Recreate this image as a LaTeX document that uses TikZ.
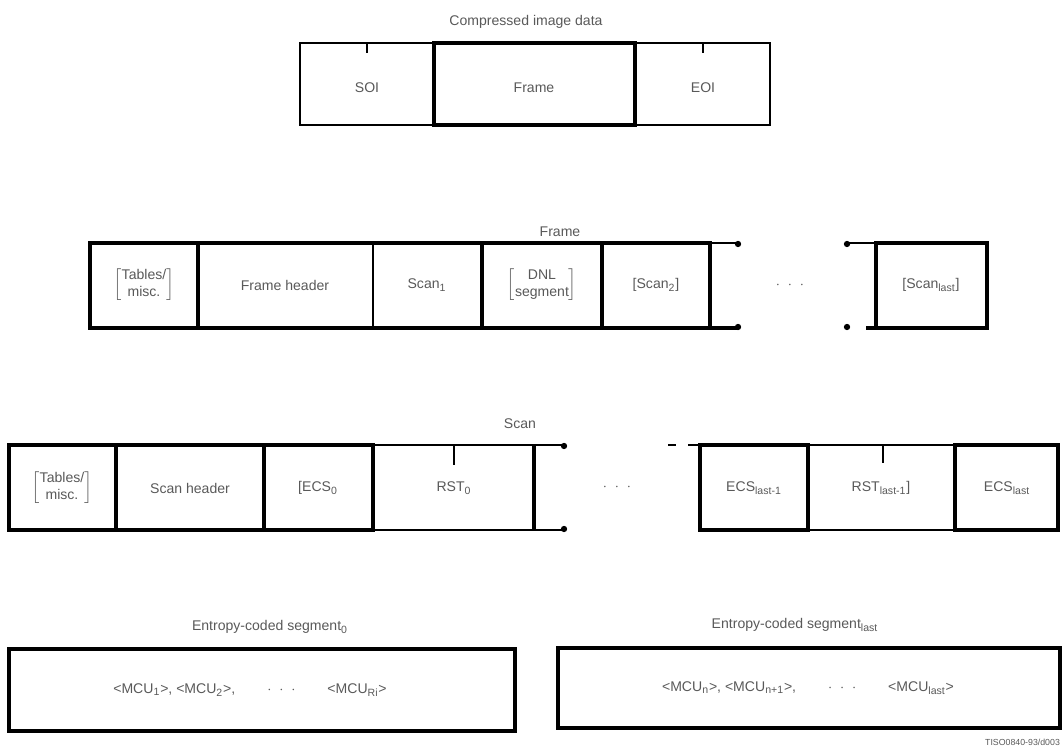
\documentclass[tikz,border=0pt]{standalone}
\usepackage{fontspec}
\setmainfont{Liberation Sans}
\usepackage{tikz}

\tikzset{
  txt/.style={font=\fontsize{8}{9.5}\selectfont, text=black!65, inner sep=1pt},
  thinline/.style={line width=0.6pt},
  midline/.style={line width=1.1pt},
  boldline/.style={line width=2.2pt},
}
\newcommand{\twoline}[2]{$\left[\begin{tabular}{@{}c@{}}#1\\#2\end{tabular}\right]$}
\newcommand{\mcu}[1]{\textless MCU\textsubscript{#1}\textgreater}

\begin{document}
\begin{tikzpicture}[x=0.02cm, y=-0.02cm]
          \useasboundingbox (0,0) rectangle (1062,749);

          % Compressed image data
          \node[txt] (cid) at (526,22) {Compressed image data};
          \draw[thinline] (300,43) rectangle (770,125);
          \draw[boldline] (434,43) rectangle (635,125);
          \draw[thinline] (367,43) -- (367,53);
          \draw[thinline] (703,43) -- (703,53);
          \node[txt] (soi) at (367,88) {SOI};
          \node[txt] (frm) at (534,88) {Frame};
          \node[txt] (eoi) at (703,88) {EOI};

          % Frame
          \node[txt] (frmlbl) at (560,232) {Frame};
          \draw[boldline] (90,243) rectangle (710,328);
          \draw[boldline] (198,243) -- (198,328);
          \draw[midline] (373,243) -- (373,328);
          \draw[boldline] (482,243) -- (482,328);
          \draw[boldline] (602,243) -- (602,328);
          \draw[midline] (710,243) -- (738,243);
          \draw[boldline] (710,328) -- (738,328);
          \fill (738,244) circle (1.8pt);
          \fill (738,327) circle (1.8pt);
          \fill (847,244) circle (1.8pt);
          \fill (847,327) circle (1.8pt);
          \draw[midline] (847,243) -- (876,243);
          \draw[boldline] (866,328) -- (876,328);
          \draw[boldline] (876,243) rectangle (987,328);
          \node[txt] (ftab) at (144,285) {\twoline{Tables/}{misc.}};
          \node[txt] (fhdr) at (285,285) {Frame header};
          \node[txt] (scan1) at (427,285) {Scan\textsubscript{1}};
          \node[txt] (dnl) at (542,285) {\twoline{DNL}{segment}};
          \node[txt] (scan2) at (656,285) {[Scan\textsubscript{2}]};
          \node[txt] (fdots) at (790,285) {$\cdot$ \ $\cdot$ \ $\cdot$};
          \node[txt] (scanl) at (931,285) {[Scan\textsubscript{last}]};

          % Scan
          \node[txt] (scnlbl) at (520,424) {Scan};
          \draw[thinline] (373,445) rectangle (534,530);
          \draw[thinline] (454,445) -- (454,465);
          \draw[boldline] (9,445) rectangle (373,530);
          \draw[boldline] (116,445) -- (116,530);
          \draw[boldline] (264,445) -- (264,530);
          \draw[boldline] (534,445) -- (534,530);
          \draw[midline] (534,445) -- (563,445);
          \draw[midline] (534,530) -- (563,530);
          \fill (564,446) circle (1.8pt);
          \fill (564,529) circle (1.8pt);
          \draw[thinline] (668,445) -- (676,445);
          \draw[thinline] (688,445) -- (700,445);
          \draw[thinline] (808,445) rectangle (955,530);
          \draw[thinline] (883,445) -- (883,463);
          \draw[boldline] (700,445) rectangle (808,530);
          \draw[boldline] (955,445) rectangle (1058,530);
          \node[txt] (stab) at (62,488) {\twoline{Tables/}{misc.}};
          \node[txt] (shdr) at (190,488) {Scan header};
          \node[txt] (ecs0) at (318,488) {[ECS\textsubscript{0}};
          \node[txt] (rst0) at (454,488) {RST\textsubscript{0}};
          \node[txt] (sdots) at (617,487) {$\cdot$ \ $\cdot$ \ $\cdot$};
          \node[txt] (ecsl1) at (754,488) {ECS\textsubscript{last-1}};
          \node[txt] (rstl1) at (881,488) {RST\textsubscript{last-1}]};
          \node[txt] (ecsl) at (1007,488) {ECS\textsubscript{last}};

          % Entropy-coded segments
          \node[txt] (ecslbl0) at (270,627) {Entropy-coded segment\textsubscript{0}};
          \draw[boldline] (9,649) rectangle (515,731);
          \node[txt] (mcu0) at (250,690) {\mcu{1}, \mcu{2}, \qquad $\cdot$ \ $\cdot$ \ $\cdot$ \qquad \mcu{Ri}};
          \node[txt] (ecslbll) at (795,625) {Entropy-coded segment\textsubscript{last}};
          \draw[boldline] (558,648) rectangle (1060,728);
          \node[txt] (mcul) at (808,688) {\mcu{n}, \mcu{n+1}, \qquad $\cdot$ \ $\cdot$ \ $\cdot$ \qquad \mcu{last}};

          \node[txt, font=\fontsize{5}{6}\selectfont, anchor=east] (tag) at (1062,742) {TISO0840-93/d003};
      \end{tikzpicture}
\end{document}
